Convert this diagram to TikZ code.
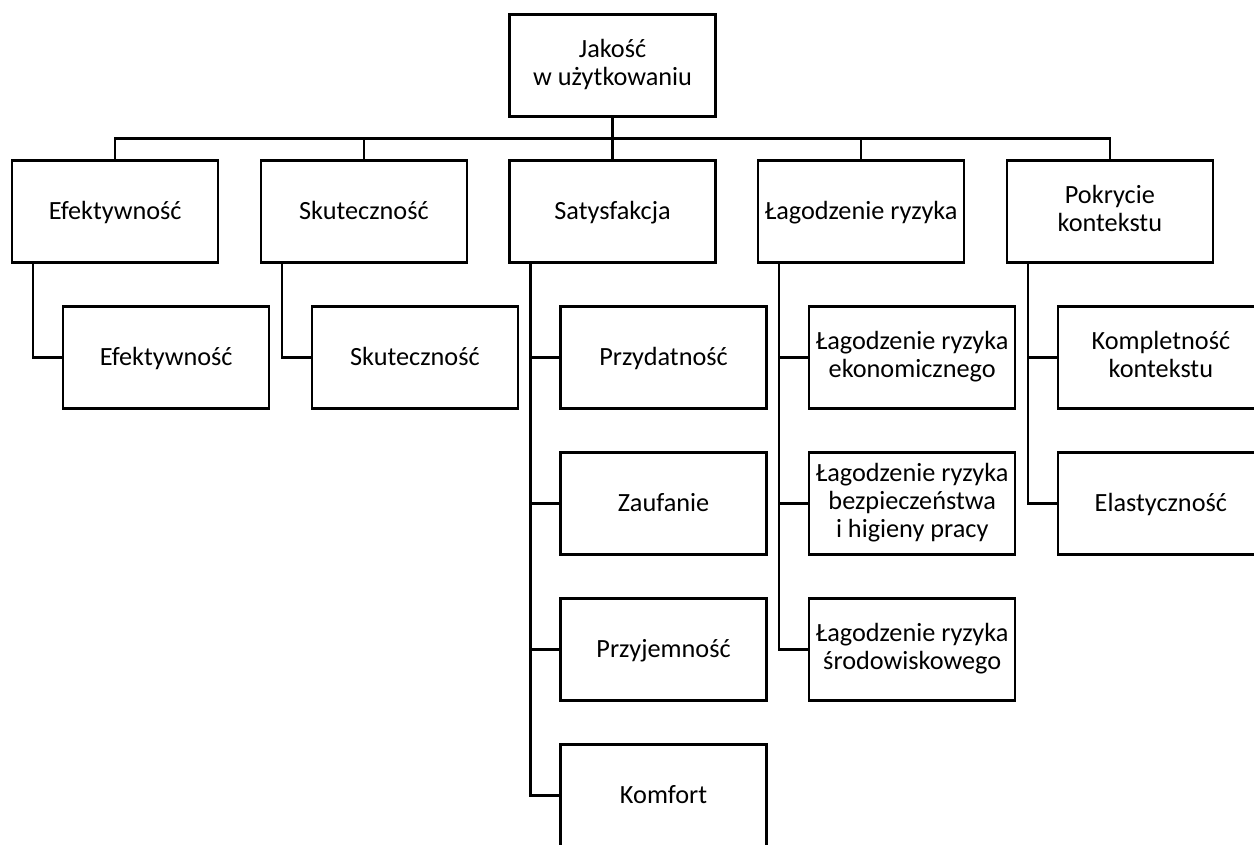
\documentclass[tikz,border=0pt]{standalone}
\usepackage{fontspec}
\setmainfont{Carlito}
\usetikzlibrary{positioning}

\newcommand\boxstrut{\rule[-4pt]{0pt}{20pt}}

\begin{document}
\begin{tikzpicture}[
        node distance=33pt and 32pt,
        box/.style={
            rectangle, draw=black, line width=1.6pt, outer sep=0pt,
            minimum width=154.5pt, minimum height=76.5pt, inner sep=2pt,
            align=center, font=\fontsize{19.7}{21}\selectfont,
            execute at begin node=\boxstrut, execute at end node=\boxstrut
        },
        link/.style={line width=1.6pt},
    ]
    \useasboundingbox (0,0) rectangle (940.5pt,-633pt);
    \clip (0,0) rectangle (940.5pt,-633pt);

    % ── Root ──
    \node[box] (jakosc) at (459.4pt,-49.1pt) {Jakość\\w użytkowaniu};

    % ── Level 1 ──
    \node[box, below=of jakosc] (satysf) {Satysfakcja};
    \node[box, left=of satysf] (skut) {Skuteczność};
    \node[box, left=of skut] (efekt) {Efektywność};
    \node[box, right=of satysf] (lagodz) {Łagodzenie ryzyka};
    \node[box, right=of lagodz] (pokr) {Pokrycie\\kontekstu};

    % ── Level 2 ──
    \node[box, below=of efekt, xshift=38.25pt] (efekt1) {Efektywność};
    \node[box, below=of skut, xshift=38.25pt] (skut1) {Skuteczność};

    \node[box, below=of satysf, xshift=38.25pt] (satysf1) {Przydatność};
    \node[box, below=of satysf1] (satysf2) {Zaufanie};
    \node[box, below=of satysf2] (satysf3) {Przyjemność};
    \node[box, below=of satysf3] (satysf4) {Komfort};

    \node[box, below=of lagodz, xshift=38.25pt] (lagodz1) {Łagodzenie ryzyka\\ekonomicznego};
    \node[box, below=of lagodz1] (lagodz2) {Łagodzenie ryzyka\\bezpieczeństwa\\i higieny pracy};
    \node[box, below=of lagodz2] (lagodz3) {Łagodzenie ryzyka\\środowiskowego};

    \node[box, below=of pokr, xshift=38.25pt] (pokr1) {Kompletność\\kontekstu};
    \node[box, below=of pokr1] (pokr2) {Elastyczność};

    % ── Top connectors ──
    \draw[link] (jakosc) -- (satysf);
    \draw[link] (efekt.north) -- ++(0,16.5pt) -| (pokr.north);
    \draw[link] (skut.north) -- ++(0,16.5pt);
    \draw[link] (lagodz.north) -- ++(0,16.5pt);

    % ── Child connectors ──
    \draw[link] ([xshift=15.75pt]efekt.south west) |- (efekt1.west);
    \draw[link] ([xshift=15.75pt]skut.south west) |- (skut1.west);
    \foreach \c in {satysf1,satysf2,satysf3,satysf4}
        \draw[link] ([xshift=15.75pt]satysf.south west) |- (\c.west);
    \foreach \c in {lagodz1,lagodz2,lagodz3}
        \draw[link] ([xshift=15.75pt]lagodz.south west) |- (\c.west);
    \foreach \c in {pokr1,pokr2}
        \draw[link] ([xshift=15.75pt]pokr.south west) |- (\c.west);

\end{tikzpicture}
\end{document}
